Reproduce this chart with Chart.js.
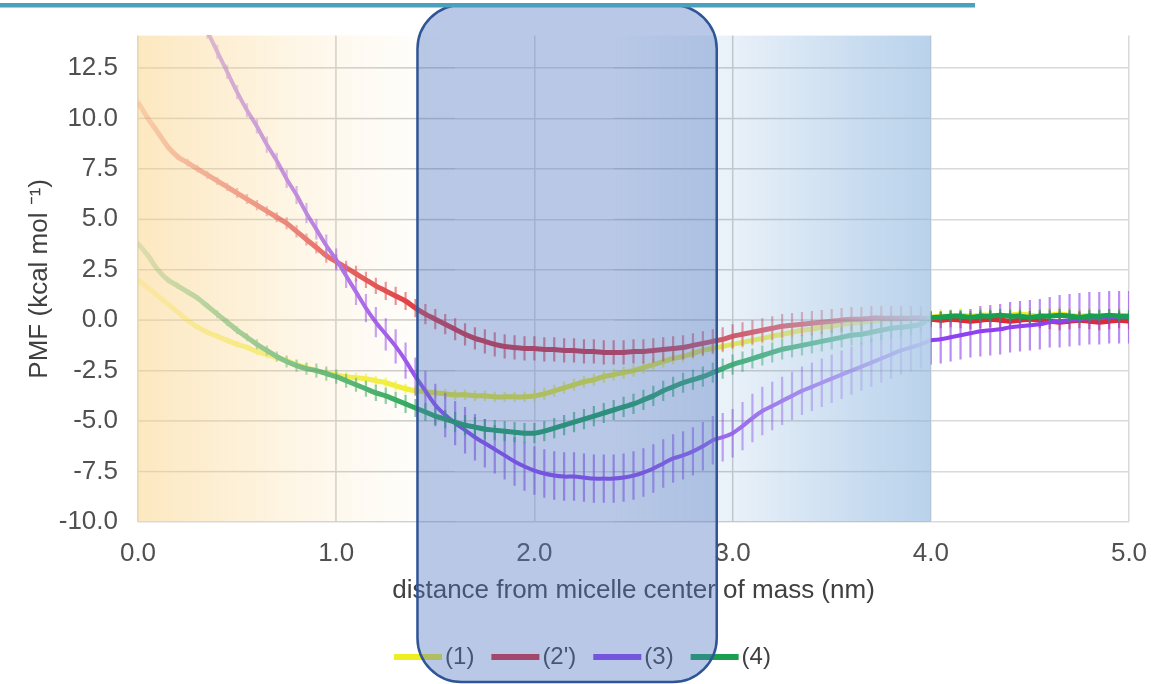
<!DOCTYPE html>
<html>
<head>
<meta charset="utf-8">
<title>PMF</title>
<script src="https://cdn.jsdelivr.net/npm/chart.js@4.4.1/dist/chart.umd.min.js"></script>
<style>
  html, body { margin: 0; padding: 0; background: #fff; }
  #wrap { position: relative; width: 1165px; height: 684px; }
</style>
</head>
<body>
<div id="wrap"><canvas id="pmf"></canvas></div>
<script>
// distance from micelle center of mass (nm)
const DIST = [
  0.00,0.05,0.10,0.15,0.20,0.25,0.30,0.35,0.40,0.45,0.50,0.55,0.60,0.65,0.70,0.75,0.80,0.85,0.90,0.95,
  1.00,1.05,1.10,1.15,1.20,1.25,1.30,1.35,1.40,1.45,1.50,1.55,1.60,1.65,1.70,1.75,1.80,1.85,1.90,1.95,
  2.00,2.05,2.10,2.15,2.20,2.25,2.30,2.35,2.40,2.45,2.50,2.55,2.60,2.65,2.70,2.75,2.80,2.85,2.90,2.95,
  3.00,3.05,3.10,3.15,3.20,3.25,3.30,3.35,3.40,3.45,3.50,3.55,3.60,3.65,3.70,3.75,3.80,3.85,3.90,3.95,
  4.00,4.05,4.10,4.15,4.20,4.25,4.30,4.35,4.40,4.45,4.50,4.55,4.60,4.65,4.70,4.75,4.80,4.85,4.90,4.95,5.00
];

const SERIES_LABELS = ['(1)', "(2')", '(3)', '(4)'];

// (1)
const PMF_1 = [
  2.0,1.6,1.2,0.8,0.4,0.0,-0.35,-0.6,-0.8,-1.0,-1.2,-1.35,-1.55,-1.7,-1.85,-2.0,-2.2,-2.35,-2.5,-2.6,
  -2.7,-2.8,-2.85,-2.9,-3.0,-3.1,-3.25,-3.4,-3.5,-3.55,-3.6,-3.65,-3.7,-3.7,-3.75,-3.75,-3.8,-3.8,-3.8,-3.8,
  -3.75,-3.65,-3.5,-3.35,-3.2,-3.05,-2.95,-2.8,-2.7,-2.6,-2.5,-2.35,-2.2,-2.05,-1.9,-1.8,-1.65,-1.5,-1.4,-1.3,
  -1.2,-1.1,-1.0,-0.9,-0.8,-0.7,-0.6,-0.5,-0.45,-0.35,-0.3,-0.2,-0.15,-0.1,-0.05,0,0.05,0.05,0.1,0.1,
  0.15,0.2,0.2,0.25,0.2,0.25,0.25,0.2,0.25,0.3,0.25,0.2,0.25,0.3,0.25,0.2,0.25,0.2,0.2,0.25,0.2
];
const ERR_1 = [
  0.1,0.1,0.1,0.1,0.1,0.1,0.15,0.15,0.15,0.15,0.15,0.15,0.2,0.2,0.2,0.2,0.2,0.2,0.2,0.2,
  0.25,0.25,0.25,0.25,0.25,0.25,0.25,0.25,0.25,0.25,0.25,0.25,0.25,0.25,0.25,0.25,0.25,0.25,0.25,0.25,
  0.3,0.3,0.3,0.3,0.3,0.3,0.3,0.3,0.3,0.3,0.3,0.3,0.3,0.3,0.3,0.3,0.3,0.3,0.3,0.3,
  0.3,0.3,0.3,0.3,0.3,0.3,0.3,0.3,0.3,0.3,0.3,0.3,0.3,0.3,0.3,0.3,0.3,0.3,0.3,0.3,
  0.35,0.35,0.35,0.35,0.35,0.35,0.35,0.35,0.35,0.35,0.35,0.35,0.35,0.35,0.35,0.35,0.35,0.35,0.35,0.35,0.35
];

// (2')
const PMF_2 = [
  10.8,10.0,9.3,8.6,8.1,7.8,7.5,7.2,6.9,6.6,6.3,6.0,5.7,5.4,5.1,4.8,4.4,4.0,3.6,3.2,
  2.9,2.6,2.3,2.0,1.7,1.45,1.2,0.95,0.6,0.3,0.05,-0.2,-0.45,-0.7,-0.9,-1.05,-1.2,-1.3,-1.35,-1.4,
  -1.4,-1.45,-1.45,-1.5,-1.5,-1.55,-1.55,-1.6,-1.6,-1.6,-1.55,-1.55,-1.5,-1.45,-1.4,-1.35,-1.25,-1.15,-1.05,-0.95,
  -0.8,-0.7,-0.6,-0.5,-0.4,-0.3,-0.25,-0.2,-0.15,-0.1,-0.05,0,0.05,0.05,0.1,0.1,0.1,0.1,0.1,0.1,
  0.05,0.0,0.05,0.0,-0.05,0.0,0.05,0.0,-0.05,0.0,0.05,0.0,-0.05,-0.1,-0.05,0.0,-0.05,-0.1,-0.05,0.0,-0.05
];
const ERR_2 = [
  0.15,0.15,0.15,0.15,0.15,0.2,0.2,0.2,0.2,0.2,0.25,0.25,0.25,0.25,0.25,0.3,0.3,0.3,0.3,0.35,
  0.35,0.35,0.4,0.4,0.4,0.45,0.45,0.45,0.45,0.5,0.5,0.5,0.55,0.55,0.55,0.6,0.6,0.6,0.6,0.6,
  0.6,0.6,0.6,0.6,0.6,0.6,0.6,0.6,0.6,0.6,0.6,0.6,0.6,0.6,0.6,0.6,0.6,0.6,0.6,0.6,
  0.6,0.6,0.6,0.6,0.6,0.6,0.6,0.6,0.6,0.6,0.6,0.6,0.6,0.6,0.6,0.6,0.6,0.6,0.6,0.6,
  0.4,0.4,0.4,0.4,0.4,0.4,0.4,0.4,0.4,0.4,0.4,0.4,0.4,0.4,0.4,0.4,0.4,0.4,0.4,0.4,0.4
];

// (3)
const PMF_3 = [
  null,null,null,null,null,null,null,14.3,13.3,12.3,11.3,10.4,9.6,8.7,7.9,7.0,6.2,5.3,4.5,3.7,
  3.0,2.2,1.4,0.6,-0.1,-0.7,-1.3,-2.0,-2.8,-3.5,-4.2,-4.7,-5.1,-5.45,-5.8,-6.1,-6.4,-6.7,-7.0,-7.25,
  -7.45,-7.6,-7.7,-7.75,-7.75,-7.8,-7.85,-7.85,-7.85,-7.8,-7.7,-7.55,-7.35,-7.1,-6.85,-6.7,-6.5,-6.25,-5.95,-5.8,
  -5.6,-5.25,-4.85,-4.5,-4.25,-4.0,-3.75,-3.5,-3.3,-3.1,-2.9,-2.7,-2.5,-2.3,-2.1,-1.9,-1.7,-1.5,-1.35,-1.2,
  -1.0,-0.95,-0.85,-0.75,-0.65,-0.55,-0.5,-0.45,-0.35,-0.3,-0.25,-0.2,-0.1,-0.05,0,0.05,0.1,0.1,0.15,0.15,0.15
];
const ERR_3 = [
  null,null,null,null,null,null,null,0.35,0.35,0.35,0.35,0.35,0.35,0.4,0.4,0.45,0.45,0.5,0.5,0.55,
  0.55,0.6,0.65,0.7,0.75,0.8,0.85,0.9,0.95,1.0,1.05,1.1,1.1,1.15,1.15,1.2,1.2,1.2,1.2,1.2,
  1.2,1.2,1.2,1.2,1.2,1.2,1.2,1.2,1.2,1.2,1.2,1.2,1.2,1.2,1.2,1.2,1.2,1.2,1.2,1.2,
  1.2,1.2,1.2,1.2,1.2,1.2,1.2,1.2,1.2,1.2,1.2,1.2,1.2,1.2,1.2,1.2,1.2,1.2,1.2,1.2,
  1.2,1.2,1.2,1.2,1.2,1.25,1.25,1.25,1.25,1.25,1.25,1.25,1.25,1.3,1.3,1.3,1.3,1.3,1.3,1.3,1.3
];

// (4)
const PMF_4 = [
  3.8,3.2,2.5,2.0,1.7,1.4,1.1,0.7,0.3,-0.1,-0.5,-0.85,-1.2,-1.5,-1.8,-2.05,-2.25,-2.4,-2.5,-2.65,
  -2.8,-3.0,-3.2,-3.4,-3.6,-3.75,-3.95,-4.15,-4.35,-4.55,-4.75,-4.9,-5.05,-5.2,-5.3,-5.4,-5.45,-5.5,-5.55,-5.6,
  -5.6,-5.5,-5.35,-5.2,-5.05,-4.9,-4.75,-4.6,-4.45,-4.3,-4.15,-3.95,-3.75,-3.5,-3.3,-3.1,-2.95,-2.8,-2.6,-2.4,
  -2.2,-2.05,-1.9,-1.75,-1.6,-1.45,-1.35,-1.25,-1.15,-1.05,-0.95,-0.85,-0.75,-0.7,-0.6,-0.5,-0.4,-0.35,-0.3,-0.2,
  0.1,0.15,0.2,0.2,0.15,0.2,0.2,0.25,0.2,0.2,0.15,0.2,0.2,0.25,0.2,0.15,0.2,0.2,0.25,0.2,0.2
];
const ERR_4 = [
  0.15,0.15,0.15,0.15,0.15,0.15,0.15,0.15,0.2,0.2,0.2,0.2,0.25,0.25,0.25,0.3,0.3,0.3,0.35,0.35,
  0.35,0.35,0.35,0.4,0.4,0.4,0.4,0.45,0.45,0.45,0.45,0.45,0.5,0.5,0.5,0.5,0.5,0.5,0.5,0.5,
  0.5,0.5,0.5,0.5,0.5,0.5,0.5,0.5,0.5,0.5,0.5,0.5,0.5,0.5,0.5,0.5,0.5,0.5,0.5,0.5,
  0.5,0.5,0.5,0.5,0.5,0.5,0.5,0.5,0.5,0.5,0.5,0.5,0.5,0.5,0.5,0.5,0.5,0.5,0.5,0.5,
  0.3,0.3,0.3,0.3,0.3,0.3,0.3,0.3,0.3,0.3,0.3,0.3,0.3,0.3,0.3,0.3,0.3,0.3,0.3,0.3,0.3
];

const FONT = "'Liberation Sans', Arial, sans-serif";
const HIGHLIGHT_FROM = 1.41; // rounded box over the well (nm)
const HIGHLIGHT_TO = 2.92;

function points(values) {
  return DIST.map((d, i) => ({ x: d, y: values[i] }));
}

function series(idx, values, errors, color, barColor, width, order) {
  return {
    label: SERIES_LABELS[idx],
    data: points(values),
    errors: errors,
    barColor: barColor,
    borderColor: color,
    backgroundColor: color,
    borderWidth: width,
    pointRadius: 0,
    tension: 0.3,
    clip: 0,
    order: order
  };
}

// vertical error bars, drawn just under each line
const errorBars = {
  id: 'errorBars',
  beforeDatasetDraw(chart, args) {
    const ds = chart.data.datasets[args.index];
    if (!ds.errors) return;
    const ys = chart.scales.y;
    const a = chart.chartArea;
    const ctx = chart.ctx;
    ctx.save();
    ctx.beginPath();
    ctx.rect(a.left, a.top, a.right - a.left, a.bottom - a.top);
    ctx.clip();
    ctx.strokeStyle = ds.barColor;
    ctx.lineWidth = 2.2;
    args.meta.data.forEach((pt, i) => {
      const v = ds.data[i].y;
      const e = ds.errors[i];
      if (v === null || e === null || isNaN(pt.x)) return;
      ctx.beginPath();
      ctx.moveTo(pt.x, ys.getPixelForValue(v + e));
      ctx.lineTo(pt.x, ys.getPixelForValue(v - e));
      ctx.stroke();
    });
    ctx.restore();
  }
};

// the orange and blue washes over the plot, plus legend, box and top rule
const decor = {
  id: 'decor',
  afterDatasetsDraw(chart) {
    const ctx = chart.ctx;
    const a = chart.chartArea;
    const xs = chart.scales.x;
    const ys = chart.scales.y;
    const h = a.bottom - a.top;
    ctx.save();

    // orange wash on the left
    let x0 = xs.getPixelForValue(0), x1 = xs.getPixelForValue(1.6);
    let g = ctx.createLinearGradient(x0, 0, x1, 0);
    g.addColorStop(0, 'rgba(252,229,183,0.88)');
    g.addColorStop(0.35, 'rgba(252,232,192,0.6)');
    g.addColorStop(0.65, 'rgba(252,236,205,0.3)');
    g.addColorStop(1, 'rgba(252,240,215,0)');
    ctx.fillStyle = g;
    ctx.fillRect(x0, a.top, x1 - x0, h);
    const orange = [x0, x1];

    // blue wash up to 4 nm
    x0 = xs.getPixelForValue(2.4); x1 = xs.getPixelForValue(4.0);
    g = ctx.createLinearGradient(x0, 0, x1, 0);
    g.addColorStop(0, 'rgba(180,207,234,0)');
    g.addColorStop(0.375, 'rgba(180,207,234,0.3)');
    g.addColorStop(0.8, 'rgba(180,207,234,0.75)');
    g.addColorStop(1, 'rgba(180,207,234,0.93)');
    ctx.fillStyle = g;
    ctx.fillRect(x0, a.top, x1 - x0, h);
    const blue = [x0, x1];

    // grid stays visible through the washes
    ctx.beginPath();
    ctx.rect(orange[0], a.top, orange[1] - orange[0], h);
    ctx.rect(blue[0], a.top, blue[1] - blue[0], h);
    ctx.clip();
    ctx.strokeStyle = 'rgba(0,0,0,0.07)';
    ctx.lineWidth = 1.5;
    ctx.beginPath();
    xs.ticks.forEach(t => {
      const px = xs.getPixelForValue(t.value);
      ctx.moveTo(px, a.top); ctx.lineTo(px, a.bottom);
    });
    ys.ticks.forEach(t => {
      const py = ys.getPixelForValue(t.value);
      ctx.moveTo(a.left, py); ctx.lineTo(a.right, py);
    });
    ctx.stroke();
    ctx.restore();
  },
  afterDraw(chart) {
    const ctx = chart.ctx;
    const xs = chart.scales.x;
    ctx.save();

    // legend
    ctx.font = '24px ' + FONT;
    ctx.textBaseline = 'middle';
    const lineW = 48, gap = 3, space = 17, ly = 657;
    const items = chart.data.datasets.map(ds => ({
      label: ds.label, color: ds.borderColor, w: ctx.measureText(ds.label).width
    }));
    let total = items.reduce((s, it) => s + lineW + gap + it.w, 0) + space * (items.length - 1);
    let lx = chart.width / 2 - total / 2;
    items.forEach(it => {
      ctx.fillStyle = it.color;
      ctx.fillRect(lx, ly - 3, lineW, 6);
      ctx.fillStyle = '#404040';
      ctx.fillText(it.label, lx + lineW + gap, ly);
      lx += lineW + gap + it.w + space;
    });

    // rounded highlight box
    const bx0 = xs.getPixelForValue(HIGHLIGHT_FROM);
    const bx1 = xs.getPixelForValue(HIGHLIGHT_TO);
    const by0 = 5, by1 = 682, r = 44;
    ctx.beginPath();
    ctx.moveTo(bx0 + r, by0);
    ctx.lineTo(bx1 - r, by0);
    ctx.arcTo(bx1, by0, bx1, by0 + r, r);
    ctx.lineTo(bx1, by1 - r);
    ctx.arcTo(bx1, by1, bx1 - r, by1, r);
    ctx.lineTo(bx0 + r, by1);
    ctx.arcTo(bx0, by1, bx0, by1 - r, r);
    ctx.lineTo(bx0, by0 + r);
    ctx.arcTo(bx0, by0, bx0 + r, by0, r);
    ctx.closePath();
    ctx.fillStyle = 'rgba(77,117,192,0.4)';
    ctx.fill();
    ctx.strokeStyle = '#2f5597';
    ctx.lineWidth = 2.5;
    ctx.stroke();

    // teal rule at the top
    ctx.fillStyle = '#4aa0bd';
    ctx.fillRect(0, 3, 975, 4.5);
    ctx.restore();
  }
};

const tickFont = { family: FONT, size: 26 };

new Chart(document.getElementById('pmf'), {
  type: 'line',
  data: {
    datasets: [
      series(0, PMF_1, ERR_1, '#eeee22', 'rgba(238,238,34,0.65)', 5, 3),
      series(1, PMF_2, ERR_2, '#dc2b35', 'rgba(220,43,53,0.6)', 5, 2),
      series(2, PMF_3, ERR_3, '#8f40f0', 'rgba(143,64,240,0.6)', 4, 1),
      series(3, PMF_4, ERR_4, '#18a050', 'rgba(24,160,80,0.6)', 5, 0)
    ]
  },
  options: {
    responsive: true,
    maintainAspectRatio: false,
    animation: false,
    layout: { padding: { left: 24, top: 35, right: 36, bottom: 78 } },
    plugins: {
      legend: { display: false },
      tooltip: { enabled: false }
    },
    scales: {
      x: {
        type: 'linear',
        min: 0,
        max: 5,
        ticks: {
          stepSize: 1,
          padding: 16,
          maxRotation: 0,
          color: '#505050',
          font: tickFont,
          callback: v => v.toFixed(1)
        },
        grid: { color: '#d9d9d9', lineWidth: 1.5, drawTicks: false },
        border: { display: false },
        title: {
          display: true,
          text: 'distance from micelle center of mass (nm)',
          color: '#404040',
          font: tickFont,
          padding: 0
        },
        afterFit: s => { s.height = 84; }
      },
      y: {
        min: -10,
        max: 14.1,
        ticks: {
          stepSize: 2.5,
          includeBounds: false,
          padding: 20,
          color: '#505050',
          font: tickFont,
          callback: v => v.toFixed(1)
        },
        grid: { color: '#d9d9d9', lineWidth: 1.5, drawTicks: false },
        border: { display: false },
        title: {
          display: true,
          text: 'PMF (kcal mol \u207B\u00B9)',
          color: '#404040',
          font: tickFont,
          padding: 0
        },
        afterFit: s => { s.width = 114; }
      }
    }
  },
  plugins: [errorBars, decor]
});
</script>
</body>
</html>
